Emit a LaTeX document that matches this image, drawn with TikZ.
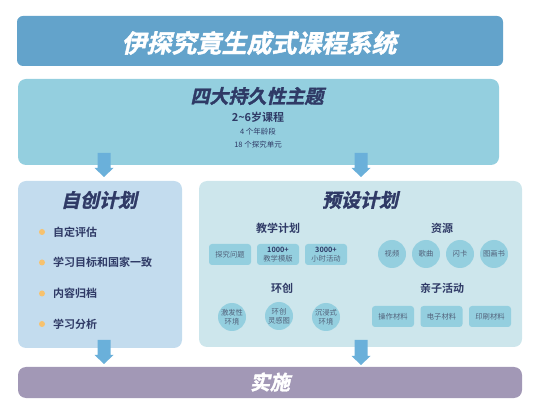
\documentclass[tikz,border=0pt]{standalone}
\usepackage{fontspec}
\newfontfamily\cjk[BoldFont={* Bold}]{Noto Sans CJK SC}
\newfontfamily\cjkh[UprightFont={* Bold},FakeSlant=0.22,FakeBold=1.5]{Noto Sans CJK SC}
\definecolor{banner}{HTML}{63A3CB}
\definecolor{theme}{HTML}{94CFDF}
\definecolor{arrowc}{HTML}{6AB0DA}
\definecolor{leftbox}{HTML}{C3DCEE}
\definecolor{rightbox}{HTML}{CDE6EC}
\definecolor{itemc}{HTML}{94CFDF}
\definecolor{impl}{HTML}{A298B6}
\definecolor{navy}{HTML}{2F3A66}
\definecolor{greytxt}{HTML}{52617A}
\definecolor{bulletc}{HTML}{F7C26E}
\tikzset{
  panel/.style={fill=#1, draw=none, rounded corners=8pt, inner sep=0pt},
  heading/.style={font=\cjkh\fontsize{19}{21}\selectfont, text=navy, inner sep=0pt},
  subhead/.style={font=\cjk\bfseries\fontsize{11}{13}\selectfont, text=navy, inner sep=0pt},
  itembox/.style={fill=itemc, rounded corners=3pt, minimum width=42pt, minimum height=21pt, font=\cjk\fontsize{7.3}{8.8}\selectfont, text=greytxt, align=center, inner sep=0pt},
  itemcirc/.style={fill=itemc, circle, minimum size=28pt, font=\cjk\fontsize{7.3}{8.8}\selectfont, text=greytxt, align=center, inner sep=0pt},
  bulletitem/.style={font=\cjk\bfseries\fontsize{11}{13}\selectfont, text=navy, anchor=west, inner sep=0pt},
  bullet/.style={fill=bulletc, circle, minimum size=6pt, inner sep=0pt},
  blockarrow/.style={fill=arrowc, draw=none}
}
\newcommand{\blockarr}[3]{% x, ytop, ybottom
  \fill[blockarrow] (#1-6.5,#2) -- (#1+6.5,#2) -- (#1+6.5,#3-9) -- (#1+9.5,#3-9) -- (#1,#3) -- (#1-9.5,#3-9) -- (#1-6.5,#3-9) -- cycle;}
\begin{document}
\begin{tikzpicture}[x=1pt,y=-1pt]
\useasboundingbox (0,0) rectangle (546,411);
% top banner
\node[panel=banner, minimum width=486pt, minimum height=50pt, rounded corners=6pt] (banner) at (260,41) {};
\node[font=\cjkh\fontsize{25}{28}\selectfont, text=white, inner sep=0pt] (title) at (259,43) {伊探究竟生成式课程系统};
% themes box
\node[panel=theme, minimum width=481pt, minimum height=86pt] (themes) at (258.5,122) {};
\node[heading] (themehead) at (257,96) {四大持久性主题};
\node[font=\cjk\bfseries\fontsize{11}{13}\selectfont, text=navy, inner sep=0pt] (age) at (258,117) {2\textasciitilde6岁课程};
\node[font=\cjk\fontsize{7.5}{9}\selectfont, text=navy, inner sep=0pt] (stages) at (258,132) {4 个年龄段};
\node[font=\cjk\fontsize{7.5}{9}\selectfont, text=navy, inner sep=0pt] (units) at (258,145) {18 个探究单元};
% left box
\node[panel=leftbox, minimum width=164pt, minimum height=167pt] (self) at (100,264.5) {};
\node[heading] (selfhead) at (99,200) {自创计划};
\foreach \y/\t [count=\i] in {232/自定评估, 262.5/学习目标和国家一致, 293.5/内容归档, 324/学习分析}{
  \node[bullet] (b\i) at (42,\y) {};
  \node[bulletitem] (li\i) at (53,\y) {\t};
}
% right box
\node[panel=rightbox, minimum width=323pt, minimum height=166pt] (preset) at (360.5,264) {};
\node[heading] (presethead) at (360,200) {预设计划};
% teaching plan
\node[subhead] (teach) at (278,228) {教学计划};
\node[itembox] (t1) at (230,254.5) {探究问题};
\node[itembox] (t2) at (278,254.5) {\textcolor{navy}{\bfseries 1000+}\\教学模版};
\node[itembox] (t3) at (326,254.5) {\textcolor{navy}{\bfseries 3000+}\\小时活动};
% resources
\node[subhead] (res) at (442,228) {资源};
\node[itemcirc] (r1) at (392,254) {视频};
\node[itemcirc] (r2) at (426,254) {歌曲};
\node[itemcirc] (r3) at (460,254) {闪卡};
\node[itemcirc] (r4) at (494,254) {图画书};
% environment
\node[subhead] (env) at (282,288) {环创};
\node[itemcirc] (e1) at (232,317) {激发性\\环境};
\node[itemcirc] (e2) at (279,316) {环创\\灵感图};
\node[itemcirc] (e3) at (326,317) {沉浸式\\环境};
% parent-child
\node[subhead] (pc) at (442,288) {亲子活动};
\node[itembox] (p1) at (393,316.5) {操作材料};
\node[itembox] (p2) at (441.5,316.5) {电子材料};
\node[itembox] (p3) at (490,316.5) {印刷材料};
% implementation bar
\node[panel=impl, minimum width=504pt, minimum height=31pt, rounded corners=8pt] (impl) at (270,382.5) {};
\node[font=\cjkh\fontsize{20}{22}\selectfont, text=white, inner sep=0pt] (impltext) at (270,382) {实施};
% block arrows
\blockarr{104}{153}{177}
\blockarr{361}{153}{177}
\blockarr{104}{340}{364}
\blockarr{361}{340}{365}
\end{tikzpicture}
\end{document}
